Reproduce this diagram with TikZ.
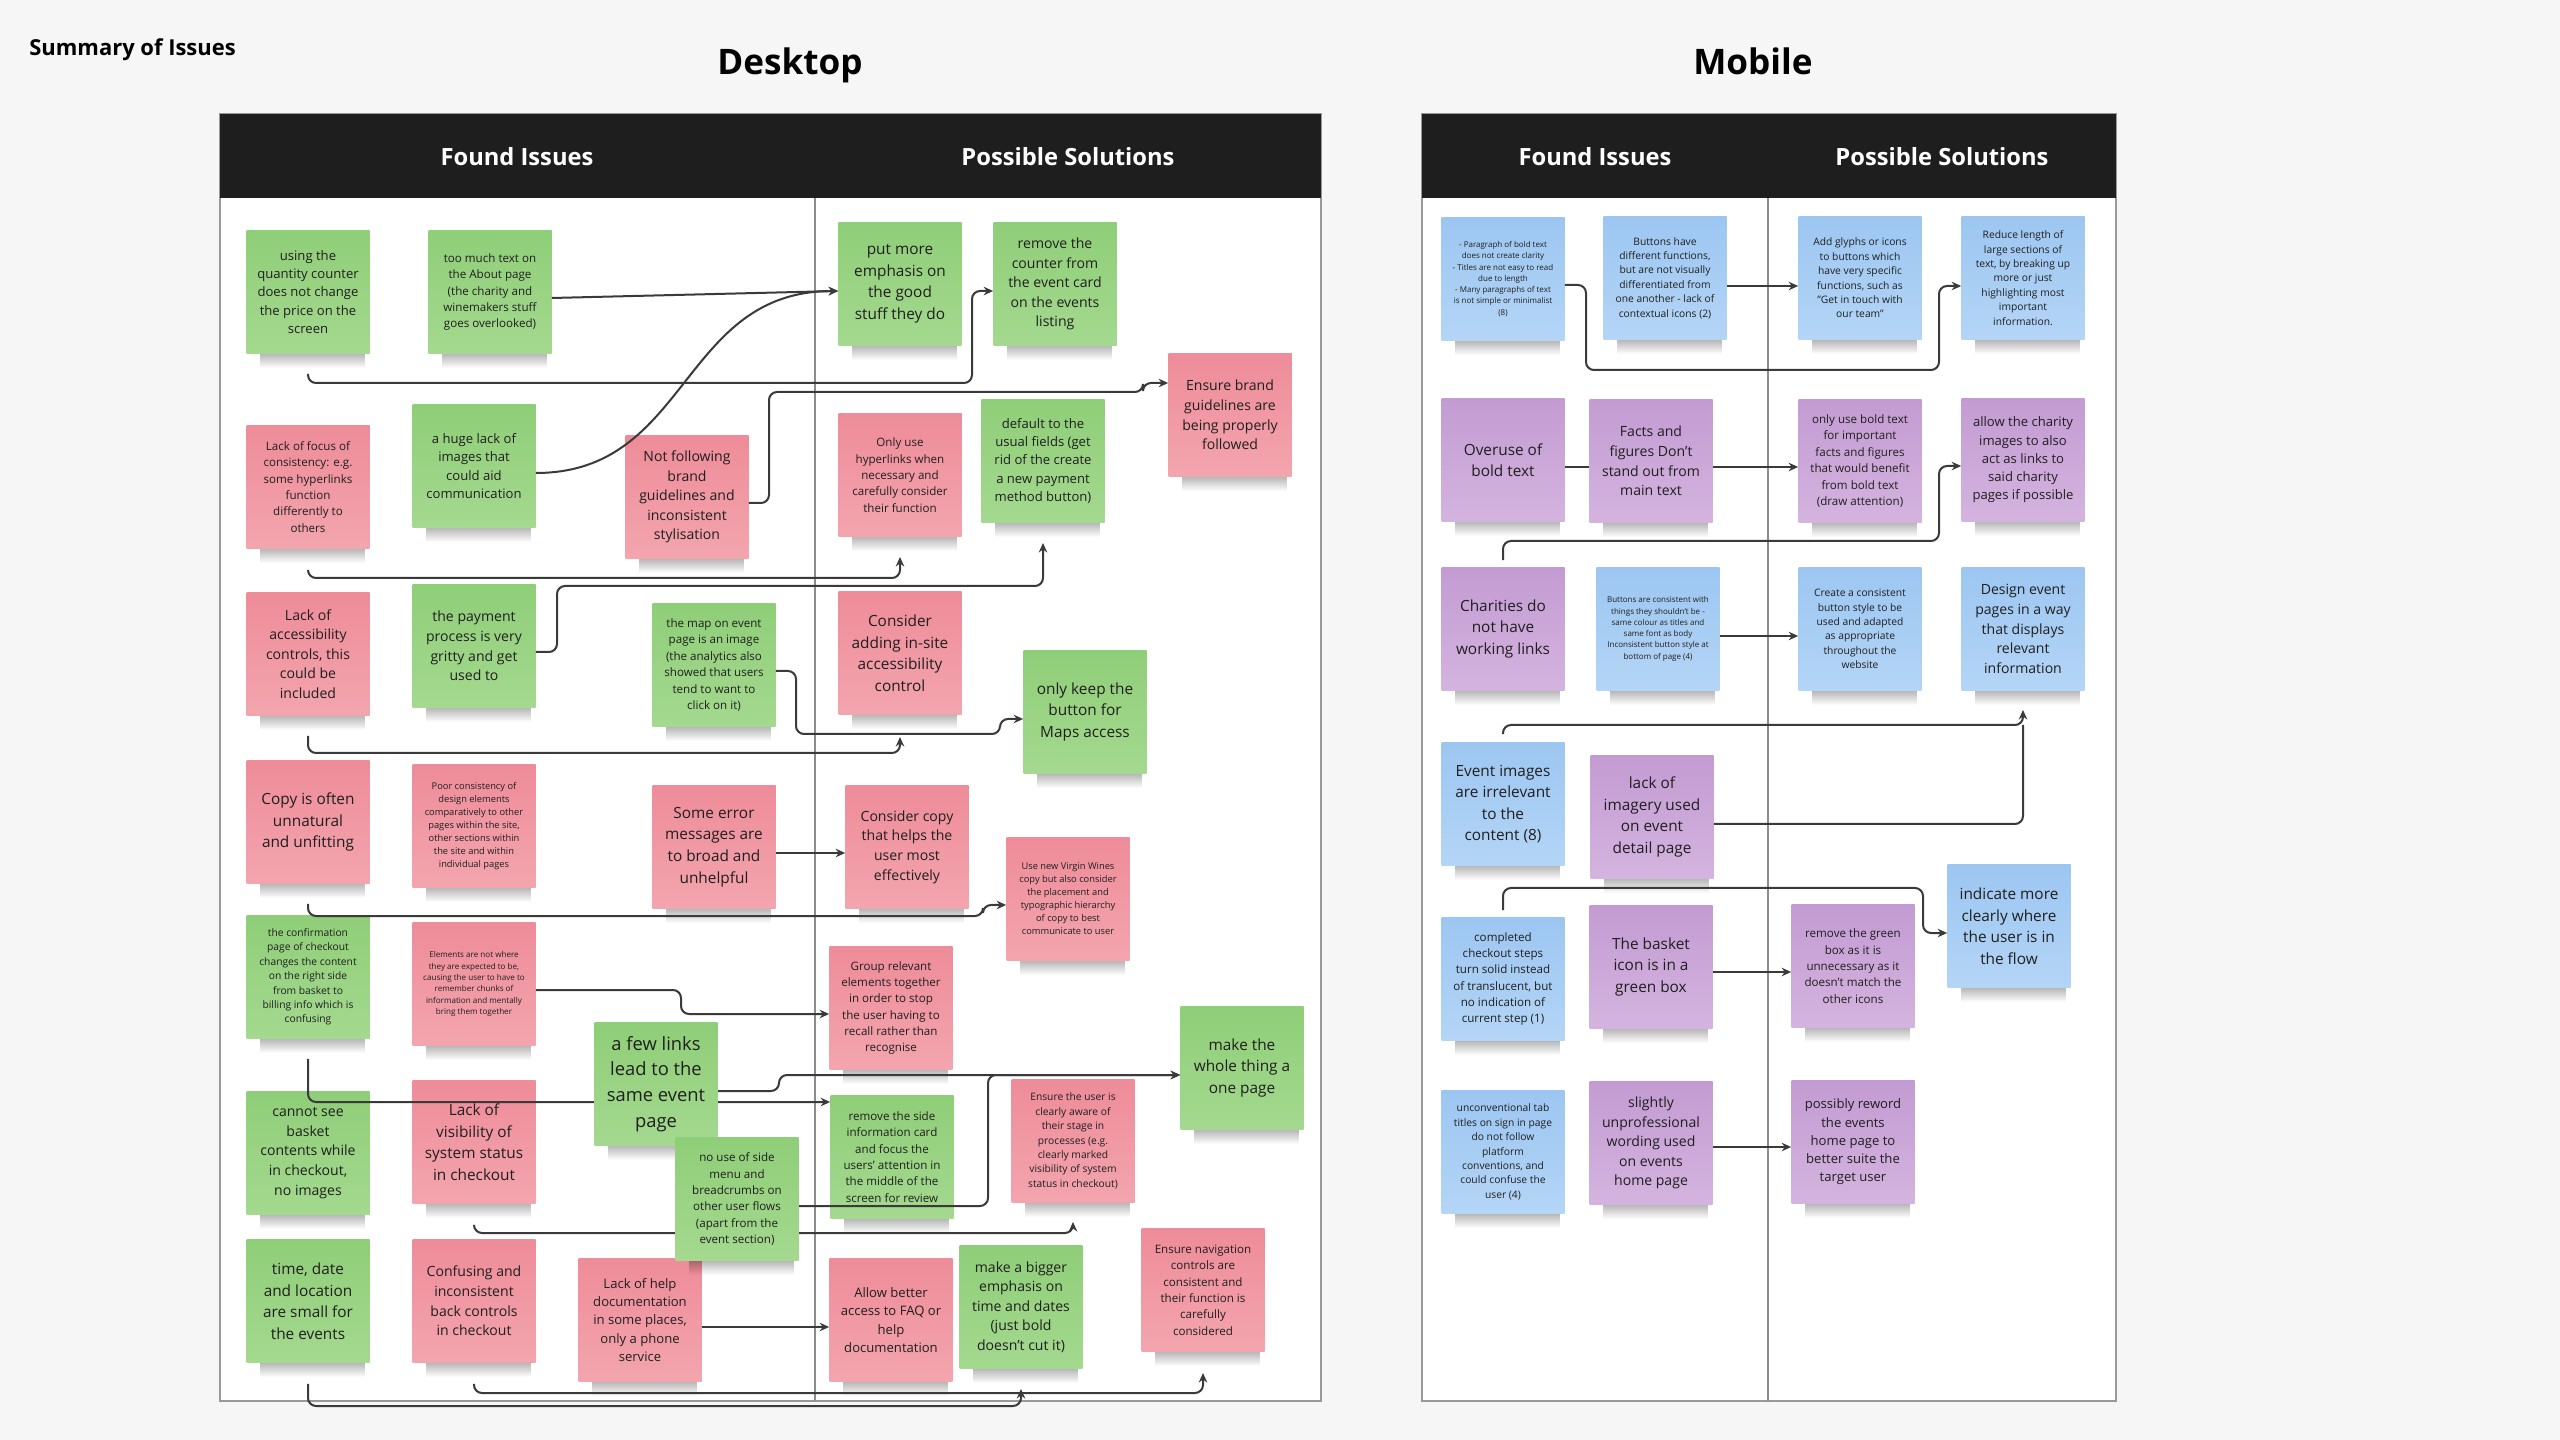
\documentclass[tikz,border=0pt]{standalone}
\usepackage{fontspec}
\setmainfont{Open Sans}
\usetikzlibrary{arrows.meta,fadings}
\definecolor{pagebg}{HTML}{F6F6F6}
\definecolor{hdrbg}{HTML}{1E1E1E}
\definecolor{grnT}{HTML}{8FCE78}
\definecolor{grnB}{HTML}{A4D98F}
\definecolor{pnkT}{HTML}{EE8C99}
\definecolor{pnkB}{HTML}{F3A5AE}
\definecolor{bluT}{HTML}{9CC6F1}
\definecolor{bluB}{HTML}{B4D5F6}
\definecolor{prpT}{HTML}{C39BD2}
\definecolor{prpB}{HTML}{D4B4DF}
\definecolor{linegray}{HTML}{3A3A3A}
\pgfdeclarelayer{front}
\pgfsetlayers{main,front}
\newcommand\fsz[2]{\fontsize{#1}{#2}\selectfont}
\def\stk(#1)[#2](#3,#4)#5{%
	\fill[black, opacity=0.4, path fading=south] ({#3-48},{#4+56}) rectangle ({#3+57},{#4+76});
	\node[sticky, #2] (#1) at (#3,#4) {#5};}

\begin{document}
\begin{tikzpicture}[x=0.2mm, y=-0.2mm,
	sticky/.style={minimum width=24.6mm, minimum height=24.6mm, inner sep=0pt, align=center, text=black!88},
	grn/.style={top color=grnT, bottom color=grnB},
	pnk/.style={top color=pnkT, bottom color=pnkB},
	blu/.style={top color=bluT, bottom color=bluB},
	prp/.style={top color=prpT, bottom color=prpB},
	s45/.style={font=\fsz{4.55}{6.4}},
	s53/.style={font=\fsz{5.3}{7.4}},
	s58/.style={font=\fsz{5.85}{8.2}},
	s66/.style={font=\fsz{6.6}{9.3}},
	s74/.style={font=\fsz{7.45}{10.4}},
	s80/.style={font=\fsz{8.0}{11.15}},
	s87/.style={font=\fsz{8.75}{12.25}},
	s104/.style={font=\fsz{10.45}{14.6}},
	panel/.style={draw=black!40, line width=0.25mm, fill=white},
	hdr/.style={text=white, font=\bfseries\fsz{13.5}{16}},
	link/.style={draw=linegray, line width=0.4mm, rounded corners=1.6mm},
	arr/.style={link, -{Stealth[length=1.9mm, width=1.7mm]}}]
		%%%%% START %%%%%
		
		\useasboundingbox (0, 0) rectangle (2560, 1440);
		\fill[pagebg] (0, 0) rectangle (2560, 1440);
		
		\node[anchor=west, inner sep=0pt, font=\bfseries\fsz{12.5}{14}] (summary) at (29, 50) {Summary of Issues};
		\node[anchor=base, font=\bfseries\fsz{20}{24}] (desk) at (790, 75) {Desktop};
		\node[anchor=base, font=\bfseries\fsz{20}{24}] (mob) at (1753, 75) {Mobile};
		
		%%%%% PANELS %%%%%
		\draw[panel] (220, 114) rectangle (1321, 1401);
		\fill[hdrbg] (220, 114) rectangle (1321, 198);
		\draw[black!45, line width=0.25mm] (815, 198) -- (815, 1401);
		\node[hdr] (dfound) at (517, 157) {Found Issues};
		\node[hdr] (dsol) at (1068, 157) {Possible Solutions};
		
		\draw[panel] (1422, 114) rectangle (2116, 1401);
		\fill[hdrbg] (1422, 114) rectangle (2116, 198);
		\draw[black!45, line width=0.25mm] (1768, 198) -- (1768, 1401);
		\node[hdr] (mfound) at (1595, 157) {Found Issues};
		\node[hdr] (msol) at (1942, 157) {Possible Solutions};
		
		%%%%% DESKTOP ISSUES %%%%%
		\stk(iss1)[grn, s74](308,292){using the\\quantity counter\\does not change\\the price on the\\screen}
		\stk(iss2)[grn, s66](490,292){too much text on\\the About page\\(the charity and\\winemakers stuff\\goes overlooked)}
		\stk(iss3)[pnk, s66](308,487){Lack of focus of\\consistency: e.g.\\some hyperlinks\\function\\differently to\\others}
		\stk(iss4)[grn, s74](474,466){a huge lack of\\images that\\could aid\\communication}
		\stk(iss5)[pnk, s80](687,497){Not following\\brand\\guidelines and\\inconsistent\\stylisation}
		\stk(iss6)[pnk, s80](308,654){Lack of\\accessibility\\controls, this\\could be\\included}
		\stk(iss7)[grn, s80](474,646){the payment\\process is very\\gritty and get\\used to}
		\stk(iss8)[grn, s66](714,665){the map on event\\page is an image\\(the analytics also\\showed that users\\tend to want to\\click on it)}
		\stk(iss9)[pnk, s87](308,822){Copy is often\\unnatural\\and unfitting}
		\stk(iss10)[pnk, s53](474,826){Poor consistency of\\design elements\\comparatively to other\\pages within the site,\\other sections within\\the site and within\\individual pages}
		\stk(iss11)[pnk, s87](714,847){Some error\\messages are\\to broad and\\unhelpful}
		\stk(iss12)[grn, s58](308,977){the confirmation\\page of checkout\\changes the content\\on the right side\\from basket to\\billing info which is\\confusing}
		\stk(iss13)[pnk, font=\fsz{4.6}{6.45}](474,984){Elements are not where\\they are expected to be,\\causing the user to have to\\remember chunks of\\information and mentally\\bring them together}
		\stk(iss15)[grn, s80](308,1153){cannot see\\basket\\contents while\\in checkout,\\no images}
		\stk(iss16)[pnk, s87](474,1142){Lack of\\visibility of\\system status\\in checkout}
		\stk(iss18)[grn, s87](308,1301){time, date\\and location\\are small for\\the events}
		\stk(iss19)[pnk, s80](474,1301){Confusing and\\inconsistent\\back controls\\in checkout}
		\stk(iss20)[pnk, s74](640,1320){Lack of help\\documentation\\in some places,\\only a phone\\service}
		
		\begin{pgfonlayer}{front}
		\stk(iss14)[grn, s104](656,1084){a few links\\lead to the\\same event\\page}
		\stk(iss17)[grn, s66](737,1199){no use of side\\menu and\\breadcrumbs on\\other user flows\\(apart from the\\event section)}
		\end{pgfonlayer}
		
		%%%%% DESKTOP SOLUTIONS %%%%%
		\stk(sol1)[grn, s87](900,284){put more\\emphasis on\\the good\\stuff they do}
		\stk(sol2)[grn, s80](1055,284){remove the\\counter from\\the event card\\on the events\\listing}
		\stk(sol3)[pnk, s80](1230,415){Ensure brand\\guidelines are\\being properly\\followed}
		\stk(sol4)[pnk, s66](900,475){Only use\\hyperlinks when\\necessary and\\carefully consider\\their function}
		\stk(sol5)[grn, s74](1043,461){default to the\\usual fields (get\\rid of the create\\a new payment\\method button)}
		\stk(sol6)[pnk, s87](900,653){Consider\\adding in-site\\accessibility\\control}
		\stk(sol7)[grn, s87](1085,712){only keep the\\button for\\Maps access}
		\stk(sol8)[pnk, s80](907,847){Consider copy\\that helps the\\user most\\effectively}
		\stk(sol9)[pnk, s53](1068,899){Use new Virgin Wines\\copy but also consider\\the placement and\\typographic hierarchy\\of copy to best\\communicate to user}
		\stk(sol10)[pnk, s66](891,1008){Group relevant\\elements together\\in order to stop\\the user having to\\recall rather than\\recognise}
		\stk(sol11)[grn, s87](1242,1068){make the\\whole thing a\\one page}
		\stk(sol12)[grn, s66](892,1157){remove the side\\information card\\and focus the\\users' attention in\\the middle of the\\screen for review}
		\stk(sol13)[pnk, s58](1073,1141){Ensure the user is\\clearly aware of\\their stage in\\processes (e.g.\\clearly marked\\visibility of system\\status in checkout)}
		\stk(sol14)[pnk, s74](891,1320){Allow better\\access to FAQ or\\help\\documentation}
		\stk(sol15)[grn, s80](1021,1307){make a bigger\\emphasis on\\time and dates\\(just bold\\doesn't cut it)}
		\stk(sol16)[pnk, s66](1203,1290){Ensure navigation\\controls are\\consistent and\\their function is\\carefully\\considered}
		
		%%%%% DESKTOP LINKS %%%%%
		\draw[arr] (iss2.east |- 0,298) -- (sol1.west |- 0,291);
		\draw[arr] (iss4.east |- 0,473) .. controls (690, 473) and (680, 291) .. (sol1.west |- 0,291);
		\draw[arr] (iss1.south) ++(0, 20) |- (972, 383) |- (sol2.west |- 0,291);
		\draw[arr] (iss5.east |- 0,503) -- (769, 503) |- (1143, 392) |- (sol3.west |- 0,383);
		\draw[arr] (iss3.south) ++(0, 22) |- (sol4.south |- 0,578) -- (sol4.south |- 0,557);
		\draw[arr] (iss7.east |- 0,652) -- (557, 652) |- (sol5.south |- 0,586) -- (sol5.south |- 0,543);
		\draw[arr] (iss6.south) ++(0, 20) |- (sol6.south |- 0,753) -- (sol6.south |- 0,737);
		\draw[arr] (iss8.east |- 0,671) -- (796, 671) |- (1000, 734) |- (sol7.west |- 0,719);
		\draw[arr] (iss11.east |- 0,853) -- (sol8.west |- 0,853);
		\draw[arr] (iss9.south) ++(0, 20) |- (983, 916) |- (sol9.west |- 0,905);
		\draw[arr] (iss13.east |- 0,990) -- (681, 990) |- (sol10.west |- 0,1014);
		\draw[arr] (iss14.east |- 0,1091) -- (779, 1091) |- (sol11.west |- 0,1075);
		\draw[arr] (iss17.east |- 0,1206) -- (988, 1206) |- (sol11.west |- 0,1075);
		\draw[arr] (iss12.south) ++(0, 20) |- (sol12.west |- 0,1102);
		\draw[arr] (iss16.south) ++(0, 22) |- (sol13.south |- 0,1233) -- (sol13.south |- 0,1222);
		\draw[arr] (iss19.south) ++(0, 21) |- (sol16.south |- 0,1393) -- (sol16.south |- 0,1373);
		\draw[arr] (iss18.south) ++(0, 21) |- (sol15.south |- 0,1406) -- (sol15.south |- 0,1389);
		\draw[arr] (iss20.east |- 0,1327) -- (sol14.west |- 0,1327);
		
		%%%%% MOBILE ISSUES %%%%%
		\stk(miss1)[blu, s45](1503,279){- Paragraph of bold text\\does not create clarity\\- Titles are not easy to read\\due to length\\- Many paragraphs of text\\is not simple or minimalist\\(8)}
		\stk(miss2)[blu, s58](1665,278){Buttons have\\different functions,\\but are not visually\\differentiated from\\one another - lack of\\contextual icons (2)}
		\stk(miss3)[prp, s87](1503,460){Overuse of\\bold text}
		\stk(miss4)[prp, s80](1651,461){Facts and\\figures Don't\\stand out from\\main text}
		\stk(miss5)[prp, s87](1503,629){Charities do\\not have\\working links}
		\stk(miss6)[blu, s45](1658,629){Buttons are consistent with\\things they shouldn't be -\\same colour as titles and\\same font as body\\Inconsistent button style at\\bottom of page (4)}
		\stk(miss7)[blu, s87](1503,804){Event images\\are irrelevant\\to the\\content (8)}
		\stk(miss8)[prp, s87](1652,817){lack of\\imagery used\\on event\\detail page}
		\stk(miss9)[blu, s66](1503,979){completed\\checkout steps\\turn solid instead\\of translucent, but\\no indication of\\current step (1)}
		\stk(miss10)[prp, s87](1651,967){The basket\\icon is in a\\green box}
		\stk(miss11)[blu, s58](1503,1152){unconventional tab\\titles on sign in page\\do not follow\\platform\\conventions, and\\could confuse the\\user (4)}
		\stk(miss12)[prp, s80](1651,1143){slightly\\unprofessional\\wording used\\on events\\home page}
		
		%%%%% MOBILE SOLUTIONS %%%%%
		\stk(msol1)[blu, s58](1860,278){Add glyphs or icons\\to buttons which\\have very specific\\functions, such as\\"Get in touch with\\our team"}
		\stk(msol2)[blu, s58](2023,278){Reduce length of\\large sections of\\text, by breaking up\\more or just\\highlighting most\\important\\information.}
		\stk(msol3)[prp, s66](1860,461){only use bold text\\for important\\facts and figures\\that would benefit\\from bold text\\(draw attention)}
		\stk(msol4)[prp, s74](2023,460){allow the charity\\images to also\\act as links to\\said charity\\pages if possible}
		\stk(msol5)[blu, s58](1860,629){Create a consistent\\button style to be\\used and adapted\\as appropriate\\throughout the\\website}
		\stk(msol6)[blu, s80](2023,629){Design event\\pages in a way\\that displays\\relevant\\information}
		\stk(msol7)[blu, s87](2009,926){indicate more\\clearly where\\the user is in\\the flow}
		\stk(msol8)[prp, s66](1853,966){remove the green\\box as it is\\unnecessary as it\\doesn't match the\\other icons}
		\stk(msol9)[prp, s74](1853,1142){possibly reword\\the events\\home page to\\better suite the\\target user}
		
		%%%%% MOBILE LINKS %%%%%
		\draw[arr] (miss1.east |- 0,285) -- (1586, 285) |- (1939, 370) |- (msol2.west |- 0,286);
		\draw[arr] (miss2.east |- 0,286) -- (msol1.west |- 0,286);
		\draw[link] (miss3.east |- 0,467) -- (miss4.west |- 0,467);
		\draw[arr] (miss4.east |- 0,467) -- (msol3.west |- 0,467);
		\draw[arr] (miss5.north) ++(0, -7) |- (1939, 541) |- (msol4.west |- 0,466);
		\draw[arr] (miss6.east |- 0,636) -- (msol5.west |- 0,636);
		\draw[arr] (miss7.north) ++(0, -8) |- (msol6.south |- 0,725) -- (msol6.south |- 0,710);
		\draw[link] (miss8.east |- 0,824) -| (msol6.south |- 0,725);
		\draw[arr] (miss9.north) ++(0, -7) |- (1923, 888) |- (msol7.west |- 0,933);
		\draw[arr] (miss10.east |- 0,972) -- (msol8.west |- 0,972);
		\draw[arr] (miss12.east |- 0,1147) -- (msol9.west |- 0,1147);
		
		%%%%% END %%%%%
	\end{tikzpicture}
\end{document}
